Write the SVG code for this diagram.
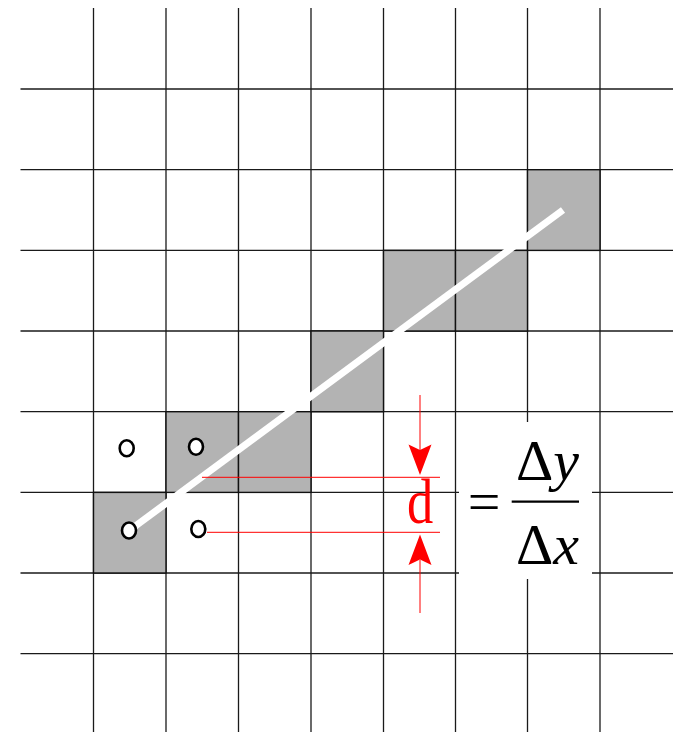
<svg xmlns="http://www.w3.org/2000/svg" width="681" height="732" viewBox="0 0 681 732">
<style>
.grid line{stroke:#1a1a1a;stroke-width:1.3}
.cell{fill:#b3b3b3;stroke:#111;stroke-width:1.4}
.pt{fill:#fff;stroke:#000;stroke-width:2.6}
.red{stroke:#ff0000;stroke-width:1;fill:none}
.arr{fill:#ff0000;stroke:none}
.serif{font-family:'Liberation Serif','Times New Roman','DejaVu Serif',serif}
.math{fill:#000}
</style>
<rect width="681" height="732" fill="#fff"/>
<g id="grid" class="grid">
<line x1="93.5" y1="8" x2="93.5" y2="732"/>
<line x1="166" y1="8" x2="166" y2="732"/>
<line x1="238.5" y1="8" x2="238.5" y2="732"/>
<line x1="311" y1="8" x2="311" y2="732"/>
<line x1="383.5" y1="8" x2="383.5" y2="732"/>
<line x1="455.5" y1="8" x2="455.5" y2="732"/>
<line x1="527.5" y1="8" x2="527.5" y2="732"/>
<line x1="600" y1="8" x2="600" y2="732"/>
<line x1="20.5" y1="89" x2="673" y2="89"/>
<line x1="20.5" y1="169.7" x2="673" y2="169.7"/>
<line x1="20.5" y1="250.4" x2="673" y2="250.4"/>
<line x1="20.5" y1="331" x2="673" y2="331"/>
<line x1="20.5" y1="411.7" x2="673" y2="411.7"/>
<line x1="20.5" y1="492.4" x2="673" y2="492.4"/>
<line x1="20.5" y1="573" x2="673" y2="573"/>
<line x1="20.5" y1="653.7" x2="673" y2="653.7"/>
</g>
<g id="cells">
<rect class="cell" x="93.5" y="492.4" width="72.5" height="80.6"/>
<rect class="cell" x="166" y="411.7" width="72.5" height="80.7"/>
<rect class="cell" x="238.5" y="411.7" width="72.5" height="80.7"/>
<rect class="cell" x="311" y="331" width="72.5" height="80.7"/>
<rect class="cell" x="383.5" y="250.4" width="72" height="80.6"/>
<rect class="cell" x="455.5" y="250.4" width="72" height="80.6"/>
<rect class="cell" x="527.5" y="169.7" width="72.5" height="80.7"/>
</g>
<rect id="formula-bg" x="459" y="422" width="133" height="157" fill="#fff"/>
<g id="connectors">
<line id="ideal-line" x1="130" y1="530" x2="563" y2="210" stroke="#fff" stroke-width="7" stroke-linecap="butt"/>
<line class="red" x1="202" y1="477.3" x2="440" y2="477.3"/>
<line class="red" x1="207" y1="532.3" x2="440" y2="532.3"/>
<line class="red" x1="420" y1="395" x2="420" y2="450"/>
<line class="red" x1="420" y1="560" x2="420" y2="613"/>
<path class="arr" d="M420,475 L408.5,444.5 L420,450 L431.5,444.5 Z"/>
<path class="arr" d="M420,534.5 L408.5,565 L420,559.5 L431.5,565 Z"/>
</g>
<g id="points">
<ellipse class="pt" cx="126.7" cy="448.3" rx="7" ry="8"/>
<ellipse class="pt" cx="196" cy="446.7" rx="7" ry="8"/>
<ellipse class="pt" cx="129" cy="530.5" rx="7" ry="8"/>
<ellipse class="pt" cx="198.3" cy="529" rx="7" ry="8"/>
</g>
<g id="label-d">
<text class="serif" x="0" y="0" transform="translate(420,522.7) scale(0.82,1)" text-anchor="middle" font-size="64" fill="#ff0000">d</text>
</g>
<g id="formula">
<text class="serif math" x="484" y="521" text-anchor="middle" font-size="58">=</text>
<text class="serif math" x="516" y="480" font-size="58">Δ<tspan font-style="italic">y</tspan></text>
<line x1="511.7" y1="501.7" x2="579" y2="501.7" stroke="#000" stroke-width="2.2"/>
<text class="serif math" x="516" y="564" font-size="58">Δ<tspan font-style="italic">x</tspan></text>
</g>
</svg>
